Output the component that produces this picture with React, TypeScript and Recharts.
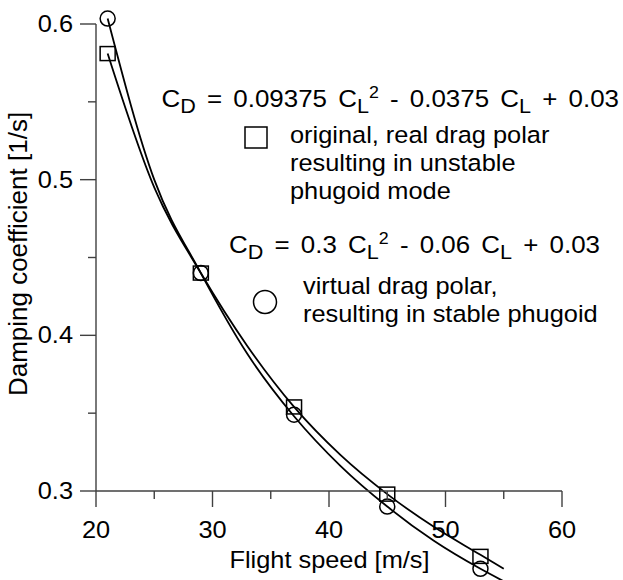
import React from "react";
import { ComposedChart, Line, Scatter, XAxis, YAxis } from "recharts";

// measured points
const speeds = [21, 29, 37, 45, 53];
const originalDamping = [0.581, 0.44, 0.354, 0.298, 0.258];
const virtualDamping = [0.6035, 0.44, 0.349, 0.29, 0.25];

// fitted curves
const curveSpeeds = [21, 25, 29, 33, 37, 41, 45, 49, 53, 55];
const originalFit = [0.581, 0.495, 0.44, 0.393, 0.354, 0.323, 0.298, 0.277, 0.259, 0.25];
const virtualFit = [0.6035, 0.5, 0.44, 0.388, 0.348, 0.316, 0.29, 0.268, 0.25, 0.242];

const xTicks = [20, 25, 30, 35, 40, 45, 50, 55, 60];
const yTicks = [0.3, 0.35, 0.4, 0.45, 0.5, 0.55, 0.6];

const FONT = "'Liberation Sans', Arial, sans-serif";
const FS = 23.5;
const SX = 1.08;
const AX = "#404040";

const toRows = (xs: number[], ys: number[]) => xs.map((x, i) => ({ x, y: ys[i] }));

const originalPts = toRows(speeds, originalDamping);
const virtualPts = toRows(speeds, virtualDamping);
const originalLine = toRows(curveSpeeds, originalFit);
const virtualLine = toRows(curveSpeeds, virtualFit);

function T({ x, y, anchor = "start", children, size = FS, ws }: any) {
  return (
    <text
      transform={`translate(${x},${y}) scale(${SX},1)`}
      textAnchor={anchor}
      fontFamily={FONT}
      fontSize={size}
      fill="#000"
      style={ws ? { wordSpacing: ws, whiteSpace: "pre" } : undefined}
    >
      {children}
    </text>
  );
}

function XTick({ x, y, payload }: any) {
  const v = payload.value;
  const major = v % 10 === 0;
  return (
    <g>
      <line x1={x} x2={x} y1={y} y2={y + (major ? 16 : 8)} stroke={AX} strokeWidth={1.4} />
      {major && (
        <T x={x} y={y + 47} anchor="middle">
          {v}
        </T>
      )}
    </g>
  );
}

function YTick({ x, y, payload }: any) {
  const v = payload.value;
  const major = Math.abs(v * 10 - Math.round(v * 10)) < 1e-6;
  return (
    <g>
      <line x1={x - (major ? 16 : 8)} x2={x} y1={y} y2={y} stroke={AX} strokeWidth={1.4} />
      {major && (
        <T x={x - 23} y={y + 8} anchor="end">
          {v.toFixed(1)}
        </T>
      )}
    </g>
  );
}

const Square = (p: any) => (
  <rect x={p.cx - 7.5} y={p.cy - 7} width={15} height={14} fill="none" stroke="#000" strokeWidth={1.5} />
);
const Ring = (p: any) => <circle cx={p.cx} cy={p.cy} r={7.5} fill="none" stroke="#000" strokeWidth={1.5} />;

const SUB = 20;
const SUP = 16.5;

function Eq({ x, y, a, b }: any) {
  return (
    <T x={x} y={y} size={24} ws={3.7}>
      C<tspan dy={6.5} fontSize={SUB}>D</tspan>
      <tspan dy={-6.5}>{` = ${a} C`}</tspan>
      <tspan dy={6.5} fontSize={SUB}>L</tspan>
      <tspan dy={-15.2} fontSize={SUP}>2</tspan>
      <tspan dy={8.7}>{` - ${b} C`}</tspan>
      <tspan dy={6.5} fontSize={SUB}>L</tspan>
      <tspan dy={-6.5}>{" + 0.03"}</tspan>
    </T>
  );
}

function Notes() {
  return (
    <g>
      <Eq x={161.5} y={106.5} a="0.09375" b="0.0375" />
      <rect x={245} y={127} width={22} height={21} fill="none" stroke="#000" strokeWidth={1.5} />
      <T x={290} y={143}>original, real drag polar</T>
      <T x={290} y={171}>resulting in unstable</T>
      <T x={290} y={199}>phugoid mode</T>

      <Eq x={229} y={252.5} a="0.3" b="0.06" />
      <circle cx={265} cy={302} r={11.5} fill="none" stroke="#000" strokeWidth={1.5} />
      <T x={303} y={294}>virtual drag polar,</T>
      <T x={303} y={321.5}>resulting in stable phugoid</T>

      <T x={329.5} y={568} anchor="middle">Flight speed [m/s]</T>
      <text
        transform="translate(27,254) rotate(-90)"
        textAnchor="middle"
        fontFamily={FONT}
        fontSize={26}
        fill="#000"
      >
        Damping coefficient [1/s]
      </text>
    </g>
  );
}

export default function App() {
  return (
    <div style={{ position: "absolute", left: 0, top: 0, width: 623, height: 580, background: "#fff" }}>
      <style>{`.recharts-wrapper [clip-path]{clip-path:none !important}`}</style>
      <ComposedChart width={623} height={580} margin={{ top: 24, right: 61, bottom: 0, left: 0 }}>
        <XAxis
          type="number"
          dataKey="x"
          domain={[20, 60]}
          ticks={xTicks}
          interval={0}
          height={89}
          tickSize={0}
          tickMargin={0}
          tickLine={false}
          axisLine={{ stroke: AX, strokeWidth: 1.4 }}
          tick={<XTick />}
        />
        <YAxis
          type="number"
          dataKey="y"
          domain={[0.3, 0.6]}
          allowDataOverflow
          ticks={yTicks}
          interval={0}
          width={96}
          tickSize={0}
          tickMargin={0}
          tickLine={false}
          axisLine={{ stroke: AX, strokeWidth: 1.4 }}
          tick={<YTick />}
        />
        <Line data={originalLine} dataKey="y" type="monotone" stroke="#000" strokeWidth={1.8} dot={false} isAnimationActive={false} />
        <Line data={virtualLine} dataKey="y" type="monotone" stroke="#000" strokeWidth={1.8} dot={false} isAnimationActive={false} />
        <Scatter data={originalPts} dataKey="y" shape={Square} isAnimationActive={false} />
        <Scatter data={virtualPts} dataKey="y" shape={Ring} isAnimationActive={false} />
        <Notes />
      </ComposedChart>
    </div>
  );
}
